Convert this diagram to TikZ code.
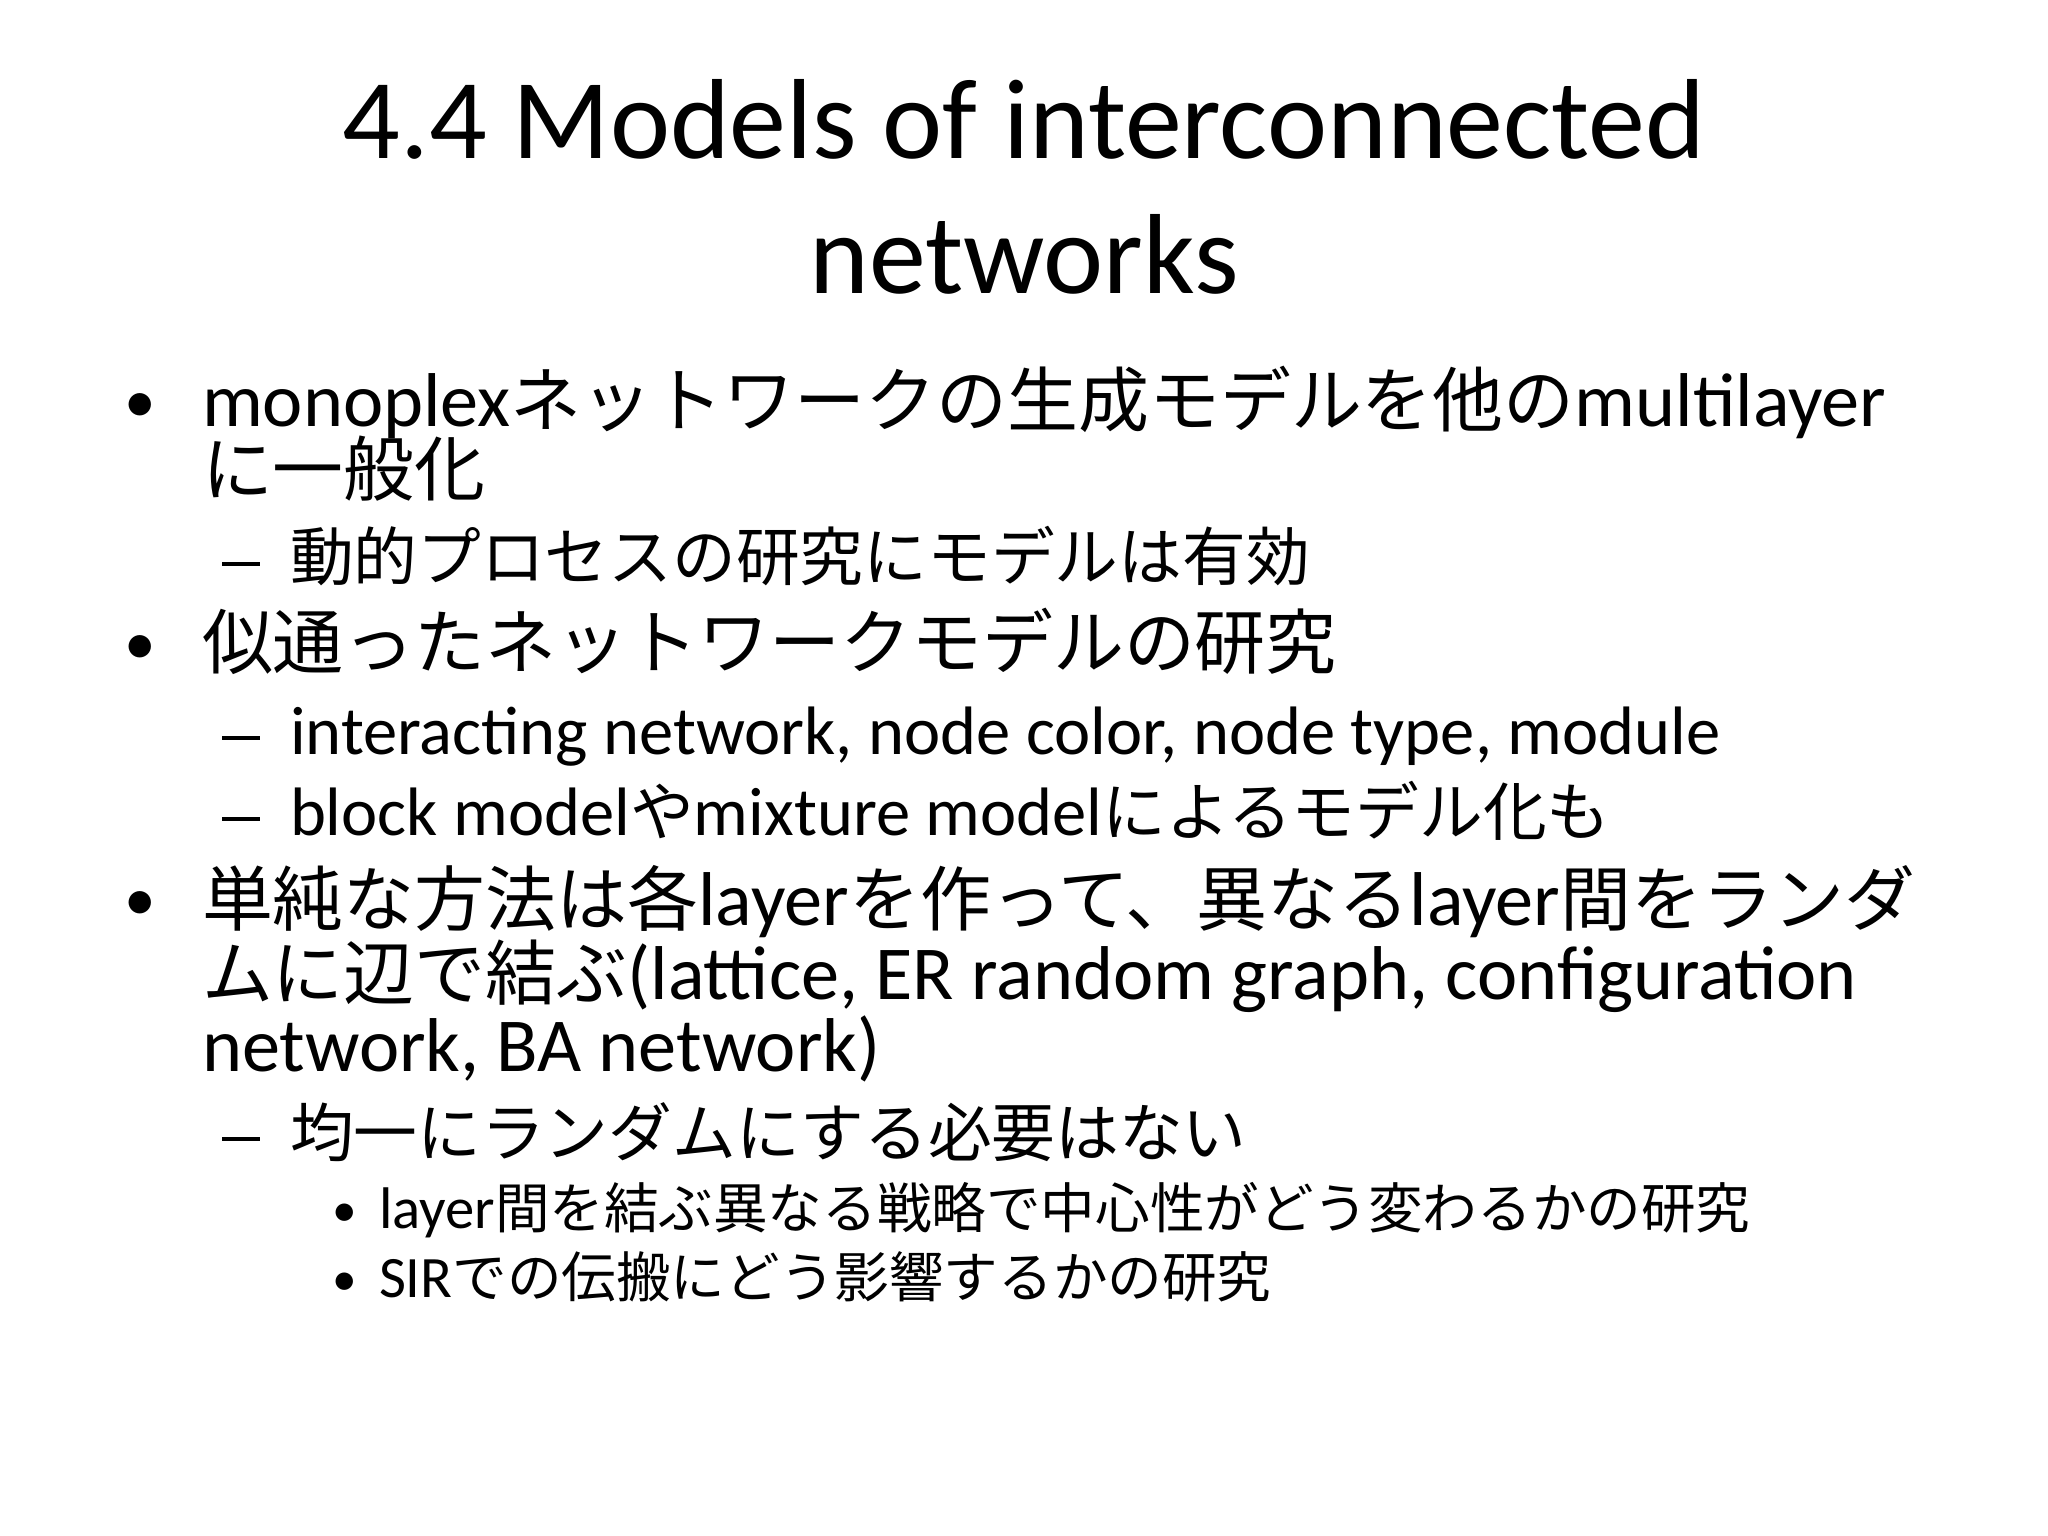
\documentclass[tikz,border=0pt]{standalone}
\usepackage{fontspec}
\setmainfont{Carlito}
\newfontfamily\cjk[Scale=0.93]{Noto Sans CJK JP}
\newcommand{\J}[1]{{\cjk #1}}
\newcommand{\dashmark}{\raisebox{0.22em}{\rule{0.55em}{0.06em}}}
\tikzset{
  txt/.style={anchor=base west, inner sep=0pt, outer sep=0pt},
  lone/.style={txt, font=\fontsize{21.7}{24}\selectfont},
  ltwo/.style={txt, font=\fontsize{19.5}{22}\selectfont},
  lthree/.style={txt, font=\fontsize{16.7}{19}\selectfont},
  bul/.style={txt, font=\fontsize{18}{20}\selectfont},
  bulsmall/.style={txt, font=\fontsize{14}{16}\selectfont},
  ttl/.style={anchor=base, inner sep=0pt, font=\fontsize{32.4}{36}\selectfont}
}
\begin{document}
\begin{tikzpicture}
\useasboundingbox[fill=white] (0,0) rectangle (20.48,-15.36);
\node[ttl] (t1) at (10.24,-1.59) {4.4 Models of interconnected};
\node[ttl] (t2) at (10.24,-2.94) {networks};
% level 1 bullets
\node[bul] (b1) at (1.25,-4.22) {•};
\node[lone] (l1) at (2.02,-4.27) {monoplex\J{ネットワークの生成モデルを他の}multilayer};
\node[lone] (l1b) at (2.02,-4.96) {\J{に一般化}};
\node[ltwo] (d1) at (2.22,-5.81) {\dashmark};
\node[ltwo] (l2) at (2.90,-5.81) {\J{動的プロセスの研究にモデルは有効}};
\node[bul] (b2) at (1.25,-6.64) {•};
\node[lone] (l3) at (2.02,-6.69) {\J{似通ったネットワークモデルの研究}};
\node[ltwo] (d2) at (2.22,-7.55) {\dashmark};
\node[ltwo] (l4) at (2.90,-7.55) {interacting network, node color, node type, module};
\node[ltwo] (d3) at (2.22,-8.36) {\dashmark};
\node[ltwo] (l5) at (2.90,-8.36) {block model\J{や}mixture model\J{によるモデル化も}};
\node[bul] (b3) at (1.25,-9.20) {•};
\node[lone] (l6) at (2.02,-9.25) {\J{単純な方法は各}layer\J{を作って、異なる}layer\J{間をランダ}};
\node[lone] (l6b) at (2.02,-9.99) {\J{ムに辺で結ぶ}(lattice, ER random graph, configuration};
\node[lone] (l6c) at (2.02,-10.71) {network, BA network)};
\node[ltwo] (d4) at (2.22,-11.56) {\dashmark};
\node[ltwo] (l7) at (2.90,-11.56) {\J{均一にランダムにする必要はない}};
\node[bulsmall] (b4) at (3.32,-12.26) {•};
\node[lthree] (l8) at (3.79,-12.28) {layer\J{間を結ぶ異なる戦略で中心性がどう変わるかの研究}};
\node[bulsmall] (b5) at (3.32,-12.95) {•};
\node[lthree] (l9) at (3.79,-12.97) {SIR\J{での伝搬にどう影響するかの研究}};
\end{tikzpicture}
\end{document}
